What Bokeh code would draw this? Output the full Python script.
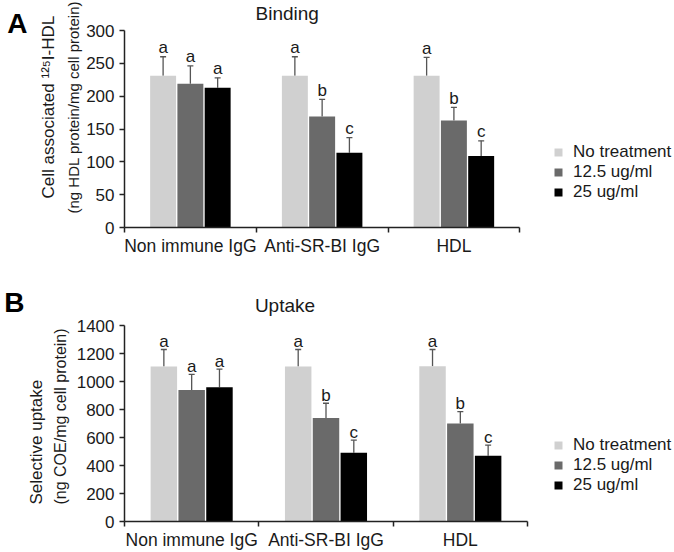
from bokeh.plotting import figure
from bokeh.models import (Range1d, FixedTicker, Label, Whisker, TeeHead, ColumnDataSource,
                          LinearAxis, Title)
from bokeh.layouts import column
from bokeh.core.properties import value
from bokeh.embed import file_html
from bokeh.resources import INLINE

categories = ["Non immune IgG", "Anti-SR-BI IgG", "HDL"]
series_names = ["No treatment", "12.5 ug/ml", "25 ug/ml"]
series_colors = ["#D0D0D0", "#6A6A6A", "#000000"]

# Panel A: Binding
binding_no_treatment = [231, 231, 231]
binding_12_5 = [219, 169, 163]
binding_25 = [213, 114, 109]
binding_no_treatment_err = [29, 29, 28]
binding_12_5_err = [27, 26, 20]
binding_25_err = [15, 23, 23]
binding_no_treatment_sig = ["a", "a", "a"]
binding_12_5_sig = ["a", "b", "b"]
binding_25_sig = ["a", "c", "c"]
binding_ticks = [0, 50, 100, 150, 200, 250, 300]

# Panel B: Uptake
uptake_no_treatment = [1108, 1108, 1110]
uptake_12_5 = [940, 740, 700]
uptake_25 = [959, 491, 470]
uptake_no_treatment_err = [121, 121, 119]
uptake_12_5_err = [111, 105, 85]
uptake_25_err = [130, 90, 76]
uptake_no_treatment_sig = ["a", "a", "a"]
uptake_12_5_sig = ["a", "b", "b"]
uptake_25_sig = ["a", "c", "c"]
uptake_ticks = [0, 200, 400, 600, 800, 1000, 1200, 1400]

FONT = "Liberation Sans"
TXT = "#1a1a1a"
AXC = "#222222"
ERRC = "#555555"
W = 674


def letter_axis(p, text, tick, standoff):
    """Extra left axis whose single tick label is the panel letter."""
    ax = LinearAxis(axis_line_color=None, major_tick_out=0, major_tick_in=0,
                    minor_tick_out=0, minor_tick_in=0)
    ax.ticker = FixedTicker(ticks=[tick])
    ax.major_label_overrides = {tick: text}
    ax.major_label_standoff = standoff
    ax.major_label_text_font = FONT
    ax.major_label_text_font_size = "28px"
    ax.major_label_text_font_style = "bold"
    ax.major_label_text_color = "black"
    p.add_layout(ax, "left")


def make_panel(vals, errs, sigs, ticks, title, letter, ylines, g):
    ytop_val = ticks[-1]
    pxx = (g["x3"] - g["x0"]) / 3.0             # px per category
    pxy = (g["y0"] - g["ytop"]) / ytop_val     # px per y unit
    xmax = (W - g["x0"]) / pxx
    ymax = g["y0"] / pxy

    p = figure(width=W, height=g["h"], output_backend="svg", toolbar_location=None,
               x_range=Range1d(0, xmax), y_range=Range1d(0, ymax), min_border=0,
               min_border_left=g["x0"], min_border_right=0, min_border_top=0,
               min_border_bottom=g["h"] - g["y0"])
    p.outline_line_color = None
    p.xgrid.visible = False
    p.ygrid.visible = False

    offsets = [-0.207, 0.0, 0.207]
    for j in range(3):
        xs = [i + 0.5 + offsets[j] for i in range(3)]
        uppers = [v + e for v, e in zip(vals[j], errs[j])]
        src = ColumnDataSource(dict(x=xs, top=vals[j], upper=uppers,
                                    laby=[u + g["sig_gap"] / pxy for u in uppers],
                                    lab=sigs[j]))
        p.vbar(x="x", top="top", bottom=0, width=0.197, source=src,
               fill_color=series_colors[j], line_color=None, legend_label=series_names[j])
        p.add_layout(Whisker(source=src, base="x", lower="top", upper="upper",
                             dimension="height", lower_head=None,
                             upper_head=TeeHead(size=6, line_color=ERRC, line_width=1.3),
                             line_color=ERRC, line_width=1.3))
        p.text(x="x", y="laby", text="lab", source=src, text_align="center",
               text_baseline="alphabetic", text_font=value(FONT),
               text_font_size="17px", text_color=TXT)

    # main y axis
    ya = p.yaxis[0]
    ya.bounds = (0, ytop_val)
    ya.ticker = FixedTicker(ticks=ticks)
    ya.minor_tick_line_color = None
    ya.major_tick_in = 0
    ya.major_tick_out = 5
    ya.major_label_standoff = 5
    ya.axis_line_color = AXC
    ya.axis_line_width = 1.5
    ya.major_tick_line_color = AXC
    ya.major_tick_line_width = 1.5
    ya.major_label_text_font = FONT
    ya.major_label_text_font_size = "17px"
    ya.major_label_text_color = TXT

    # x axis: labels at category centres, ticks at category boundaries
    xa = p.xaxis[0]
    xa.bounds = (0, 3)
    xa.ticker = FixedTicker(ticks=[0.5, 1.5, 2.5], minor_ticks=[0, 1, 2, 3])
    xa.major_label_overrides = {i + 0.5: c for i, c in enumerate(categories)}
    xa.major_tick_in = 0
    xa.major_tick_out = 0
    xa.minor_tick_in = 0
    xa.minor_tick_out = 5
    xa.minor_tick_line_color = AXC
    xa.minor_tick_line_width = 1.5
    xa.axis_line_color = AXC
    xa.axis_line_width = 1.5
    xa.major_label_standoff = g["cat_standoff"]
    xa.major_label_text_font = FONT
    xa.major_label_text_font_size = "17.5px"
    xa.major_label_text_color = TXT

    # y axis title, two lines, each a left-side title starting a given distance above the x axis
    for (txt, bottom_px, s, fs) in ylines:
        p.add_layout(Title(text=txt, align="left", offset=g["y0"] - bottom_px, standoff=s,
                           text_font=FONT, text_font_size=fs, text_font_style="normal",
                           text_color=TXT), "left")
    letter_axis(p, letter, (g["y0"] - g["letter_y"]) / pxy, g["letter_standoff"])

    # panel title
    p.add_layout(Label(x=(g["title_x"] - g["x0"]) / pxx, y=(g["y0"] - g["title_y"]) / pxy,
                       text=title, text_align="center", text_baseline="middle",
                       text_font=FONT, text_font_size="19px", text_color=TXT))

    leg = p.legend[0]
    leg.location = g["leg"]
    leg.glyph_width = 10
    leg.glyph_height = 10
    leg.label_standoff = 10
    leg.spacing = 0
    leg.padding = 0
    leg.margin = 0
    leg.label_height = 18
    leg.label_text_font = FONT
    leg.label_text_font_size = "17px"
    leg.label_text_color = TXT
    leg.border_line_color = None
    leg.background_fill_alpha = 0
    return p


# geometry in pixels inside each figure
gA = dict(h=270, x0=123, x3=519, y0=227, ytop=30, cat_standoff=3, sig_gap=9,
          title_x=286, title_y=13, letter_y=8, letter_standoff=6, leg=(429, 25))
pA = make_panel([binding_no_treatment, binding_12_5, binding_25],
                [binding_no_treatment_err, binding_12_5_err, binding_25_err],
                [binding_no_treatment_sig, binding_12_5_sig, binding_25_sig],
                binding_ticks, "Binding", "A",
                [("(ng HDL protein/mg cell protein)", 213, 4, "15px"),
                 ("Cell associated \u00b9\u00b2\u2075I-HDL", 198, 6, "17px")], gA)

gB = dict(h=282, x0=124, x3=527, y0=252, ytop=55.3, cat_standoff=3, sig_gap=8,
          title_x=284.5, title_y=35, letter_y=32, letter_standoff=0, leg=(429, 26))
pB = make_panel([uptake_no_treatment, uptake_12_5, uptake_25],
                [uptake_no_treatment_err, uptake_12_5_err, uptake_25_err],
                [uptake_no_treatment_sig, uptake_12_5_sig, uptake_25_sig],
                uptake_ticks, "Uptake", "B",
                [("(ng COE/mg cell protein)", 235, 9, "16px"),
                 ("Selective uptake", 235, 0, "17px")], gB)

layout = column(pA, pB, spacing=0)
open("out.html", "w").write(file_html(layout, INLINE))
